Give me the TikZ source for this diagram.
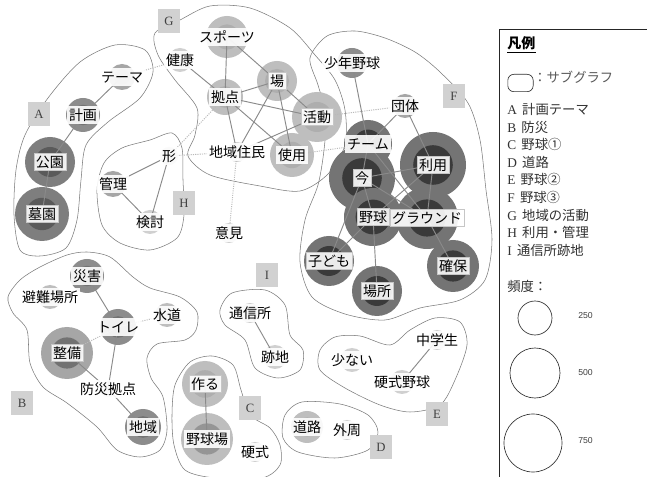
\documentclass[tikz,border=0pt]{standalone}
\usepackage{fontspec}
\setmainfont{Noto Sans CJK JP}
\newfontfamily\monof{Liberation Serif}
\newfontfamily\numf{Liberation Sans}
\pgfdeclarelayer{bglayer}
\pgfdeclarelayer{hulllayer}
\pgfdeclarelayer{circlayer}
\pgfdeclarelayer{edgelayer}
\pgfsetlayers{bglayer,hulllayer,circlayer,edgelayer,main}
\definecolor{dkO}{HTML}{747474}\definecolor{dkI}{HTML}{3A3A3A}
\definecolor{pkO}{HTML}{7E7E7E}\definecolor{pkI}{HTML}{5A5A5A}
\definecolor{mdO}{HTML}{8C8C8C}\definecolor{mdI}{HTML}{727272}
\definecolor{mlO}{HTML}{A6A6A6}\definecolor{mlI}{HTML}{959595}
\definecolor{ltO}{HTML}{BEBEBE}\definecolor{ltI}{HTML}{AEAEAE}
\definecolor{vlO}{HTML}{D0D0D0}\definecolor{vlI}{HTML}{C4C4C4}
\definecolor{edgc}{HTML}{8A8A8A}
\definecolor{hullc}{HTML}{7A7A7A}
\tikzset{
  lbl/.style={fill=white, fill opacity=0.9, text opacity=1, inner sep=1.5pt,
    text height=0.88em, text depth=0.12em, font=\fontsize{10.5}{11}\selectfont},
  lblb/.style={lbl, draw=gray!45, line width=0.3pt},
  edg/.style={draw=edgc, line width=0.7pt},
  dotedg/.style={draw=gray!55, line width=0.7pt, dash pattern=on 0.8pt off 0.9pt},
  hullline/.style={draw=hullc, line width=0.4pt},
  grpbox/.style={fill=black!18, minimum width=16.5pt, minimum height=18.5pt, inner sep=0pt,
    text=black!75, font=\monof\fontsize{9.5}{9.5}\selectfont},
  lgtext/.style={anchor=west, inner sep=0pt, text=black!80, font=\fontsize{10}{11}\selectfont},
  lgnum/.style={anchor=west, inner sep=0pt, text=black!75, font=\numf\fontsize{6.5}{7}\selectfont},
  lgcirc/.style={draw=black!80, line width=0.5pt, circle, inner sep=0pt}
}
\newcommand\mynode[8][lbl]{%
  \node[#1] (#2) at (#3,#4) {#8};
  \begin{pgfonlayer}{circlayer}
    \fill[fill=#6] (#2.center) circle[radius=#5*0.75pt];
    \fill[fill=#7] (#2.center) circle[radius=#5*0.45pt];
  \end{pgfonlayer}}
\begin{document}
\begin{tikzpicture}[x=0.75pt,y=-0.75pt]
\useasboundingbox (0,0) rectangle (647,477);
\begin{pgfonlayer}{bglayer}
\fill[white] (0,0) rectangle (647,477);
\end{pgfonlayer}

% hulls
\begin{pgfonlayer}{hulllayer}
\draw[hullline] plot[smooth cycle] coordinates {(20,250) (14,215) (16,170) (25,135) (48,98) (80,62) (115,45) (145,50) (153,72) (140,98) (108,122) (86,145) (81,180) (77,220) (66,248) (40,256)};
\draw[hullline] plot[smooth cycle] coordinates {(155,33) (158,55) (175,80) (197,108) (195,135) (188,156) (210,175) (260,186) (300,191) (328,174) (345,145) (345,110) (335,80) (315,55) (290,28) (250,8) (210,6) (180,20)};
\draw[hullline] plot[smooth cycle] coordinates {(310,58) (327,36) (355,31) (385,38) (415,52) (440,72) (468,103) (480,140) (486,190) (492,240) (485,280) (460,300) (420,308) (385,320) (345,314) (312,297) (300,262) (305,220) (318,185) (324,150) (326,115) (318,85)};
\draw[hullline] plot[smooth cycle] coordinates {(97,190) (104,163) (122,148) (150,140) (172,133) (182,148) (183,180) (184,215) (177,238) (150,250) (120,243) (102,225)};
\draw[hullline] plot[smooth cycle] coordinates {(8,297) (20,280) (40,267) (67,255) (87,252) (110,257) (133,277) (150,288) (180,297) (197,312) (196,330) (185,340) (157,344) (147,358) (151,378) (163,397) (167,430) (160,450) (140,457) (117,450) (97,427) (67,403) (43,387) (30,363) (27,330) (13,313)};
\draw[hullline] plot[smooth cycle] coordinates {(220,310) (232,293) (265,290) (285,305) (290,335) (303,350) (300,370) (278,378) (255,368) (245,340) (225,325)};
\draw[hullline] plot[smooth cycle] coordinates {(172,415) (175,385) (190,362) (212,356) (233,365) (241,390) (250,415) (270,428) (280,445) (280,465) (262,478) (215,478) (185,470) (174,445)};
\draw[hullline] plot[smooth cycle] coordinates {(285,415) (302,402) (340,404) (368,415) (378,432) (368,450) (335,458) (298,452) (283,438)};
\draw[hullline] plot[smooth cycle] coordinates {(320,350) (335,337) (360,336) (390,345) (410,330) (435,318) (460,322) (467,345) (455,380) (440,405) (410,412) (380,405) (345,388) (320,370)};
\end{pgfonlayer}

% nodes: A
\mynode{teema}{122}{77}{13}{mlO}{mlI}{テーマ}
\mynode{keikaku}{83}{115}{17}{mdO}{mdI}{計画}
\mynode[lblb]{kouen}{50}{162}{25}{pkO}{pkI}{公園}
\mynode[lblb]{boen}{42}{214}{27}{pkO}{pkI}{墓園}
% G
\mynode{sports}{227}{37}{21}{ltO}{ltI}{スポーツ}
\mynode{kenkou}{180}{60}{12}{vlO}{vlI}{健康}
\mynode{kyoten}{225}{97}{18}{ltO}{ltI}{拠点}
\mynode[lblb]{ba}{277}{81}{20}{ltO}{ltI}{場}
\mynode[lblb]{katsudou}{317}{117}{25}{ltO}{ltI}{活動}
\mynode{shiyou}{292}{155}{22}{ltO}{ltI}{使用}
\mynode{juumin}{237}{152}{10}{vlO}{vlI}{地域住民}
% H
\mynode{katachi}{169}{156}{9}{vlO}{vlI}{形}
\mynode{kanri}{113}{184}{13}{mlO}{mlI}{管理}
\mynode{kentou}{150}{222}{12}{vlO}{vlI}{検討}
\mynode{iken}{229}{233}{10}{vlO}{vlI}{意見}
% F
\mynode{shounen}{352}{63}{15}{mdO}{mdI}{少年野球}
\mynode{dantai}{405}{106}{12}{mlO}{mlI}{団体}
\mynode{team}{368}{144}{24}{dkO}{dkI}{チーム}
\mynode[lblb]{ima}{362}{178}{33}{dkO}{dkI}{今}
\mynode[lblb]{riyou}{433}{165}{33}{dkO}{dkI}{利用}
\mynode[lblb]{yakyuu}{373}{217}{29}{dkO}{dkI}{野球}
\mynode[lblb]{ground}{427}{218}{31}{dkO}{dkI}{グラウンド}
\mynode[lblb]{kodomo}{329}{261}{25}{dkO}{dkI}{子ども}
\mynode[lblb]{basho}{377}{291}{25}{dkO}{dkI}{場所}
\mynode[lblb]{kakuho}{453}{266}{26}{dkO}{dkI}{確保}
% B
\mynode{saigai}{87}{276}{17}{mdO}{mdI}{災害}
\mynode{hinan}{50}{297}{12}{ltO}{ltI}{避難場所}
\mynode{toire}{118}{327}{18}{mdO}{mdI}{トイレ}
\mynode{suidou}{167}{315}{12}{ltO}{ltI}{水道}
\mynode[lblb]{seibi}{67}{353}{26}{mlO}{mdI}{整備}
\mynode{bousai}{108}{389}{8}{vlO}{vlI}{防災拠点}
\mynode{chiiki}{143}{427}{18}{mdO}{mdI}{地域}
% I
\mynode{tsuushin}{250}{313}{10}{vlO}{vlI}{通信所}
\mynode{atochi}{275}{357}{12}{vlO}{vlI}{跡地}
% C
\mynode[lblb]{tsukuru}{205}{384}{23}{ltO}{ltI}{作る}
\mynode{yakyuujou}{207}{439}{26}{ltO}{mlI}{野球場}
\mynode{koushiki}{255}{452}{10}{vlO}{vlI}{硬式}
% D
\mynode{douro}{307}{427}{16}{ltO}{ltI}{道路}
\mynode{gaishuu}{347}{430}{10}{vlO}{vlI}{外周}
% E
\mynode{chuugaku}{437}{340}{10}{vlO}{vlI}{中学生}
\mynode{sukunai}{352}{360}{12}{vlO}{vlI}{少ない}
\mynode{koushikiy}{402}{382}{12}{vlO}{vlI}{硬式野球}

% edges
\begin{pgfonlayer}{edgelayer}
\foreach \a/\b in {teema/keikaku, keikaku/kouen, kouen/boen,
  sports/kyoten, sports/ba, kenkou/kyoten, kyoten/ba, kyoten/katsudou, kyoten/juumin,
  kyoten/shiyou, ba/juumin, ba/shiyou, ba/katsudou, juumin/katsudou,
  katachi/kanri, katachi/kentou, kanri/kentou,
  shounen/team, dantai/team, dantai/riyou, team/ima, team/ground, ima/riyou, ima/yakyuu,
  ima/ground, riyou/ground, riyou/yakyuu, yakyuu/ground, yakyuu/kodomo, yakyuu/basho,
  ground/kakuho, ima/kodomo,
  saigai/toire, toire/bousai, seibi/bousai, bousai/chiiki,
  tsuushin/atochi, tsukuru/yakyuujou, chuugaku/koushikiy}
  \draw[edg] (\a.center) -- (\b.center);
\foreach \a/\b in {teema/kenkou, kyoten/katachi, juumin/katachi, juumin/iken,
  shiyou/team, katsudou/dantai, seibi/toire, toire/suidou}
  \draw[dotedg] (\a.center) -- (\b.center);
\end{pgfonlayer}

% group boxes
\node[grpbox] (gA) at (39,114) {A};
\node[grpbox] (gB) at (22,403) {B};
\node[grpbox] (gC) at (250,408) {C};
\node[grpbox] (gD) at (381,447) {D};
\node[grpbox] (gE) at (437,414) {E};
\node[grpbox] (gF) at (454,96) {F};
\node[grpbox] (gG) at (169,21) {G};
\node[grpbox] (gH) at (184,203) {H};
\node[grpbox] (gI) at (267,275) {I};

% legend
\draw[black!85, line width=0.6pt] (499,477) -- (499,29) -- (647,29);
\node[lgtext, font=\bfseries\fontsize{10.5}{11}\selectfont, text=black] (lgtitle) at (507,43) {凡例};
\draw[black, line width=0.6pt] ([yshift=-1.5pt]lgtitle.south west) -- ([yshift=-1.5pt]lgtitle.south east);
\node[draw=black!80, line width=0.5pt, rounded corners=4.5pt, minimum width=19pt, minimum height=13pt, inner sep=0pt] (lgsym) at (520.5,83) {};
\node[lgtext, text=black!65] (lgsub) at (533,77) {：サブグラフ};
\node[lgtext] (lgA) at (507,109.5) {{\monof A}\hspace{4pt}計画テーマ};
\node[lgtext] (lgB) at (507,127.1) {{\monof B}\hspace{4pt}防災};
\node[lgtext] (lgC) at (507,144.7) {{\monof C}\hspace{4pt}野球①};
\node[lgtext] (lgD) at (507,162.3) {{\monof D}\hspace{4pt}道路};
\node[lgtext] (lgE) at (507,179.9) {{\monof E}\hspace{4pt}野球②};
\node[lgtext] (lgF) at (507,197.5) {{\monof F}\hspace{4pt}野球③};
\node[lgtext] (lgG) at (507,215.1) {{\monof G}\hspace{4pt}地域の活動};
\node[lgtext] (lgH) at (507,232.7) {{\monof H}\hspace{4pt}利用・管理};
\node[lgtext] (lgI) at (507,250.3) {{\monof I}\hspace{4pt}通信所跡地};
\node[lgtext] (lgfreq) at (507,286) {頻度：};
\node[lgcirc, minimum size=25.5pt] (c250) at (535,318) {};
\node[lgcirc, minimum size=37.5pt] (c500) at (535,373) {};
\node[lgcirc, minimum size=43.5pt] (c750) at (533,443) {};
\node[lgnum] (n250) at (578,316) {250};
\node[lgnum] (n500) at (578,373) {500};
\node[lgnum] (n750) at (578,441) {750};
\end{tikzpicture}
\end{document}
